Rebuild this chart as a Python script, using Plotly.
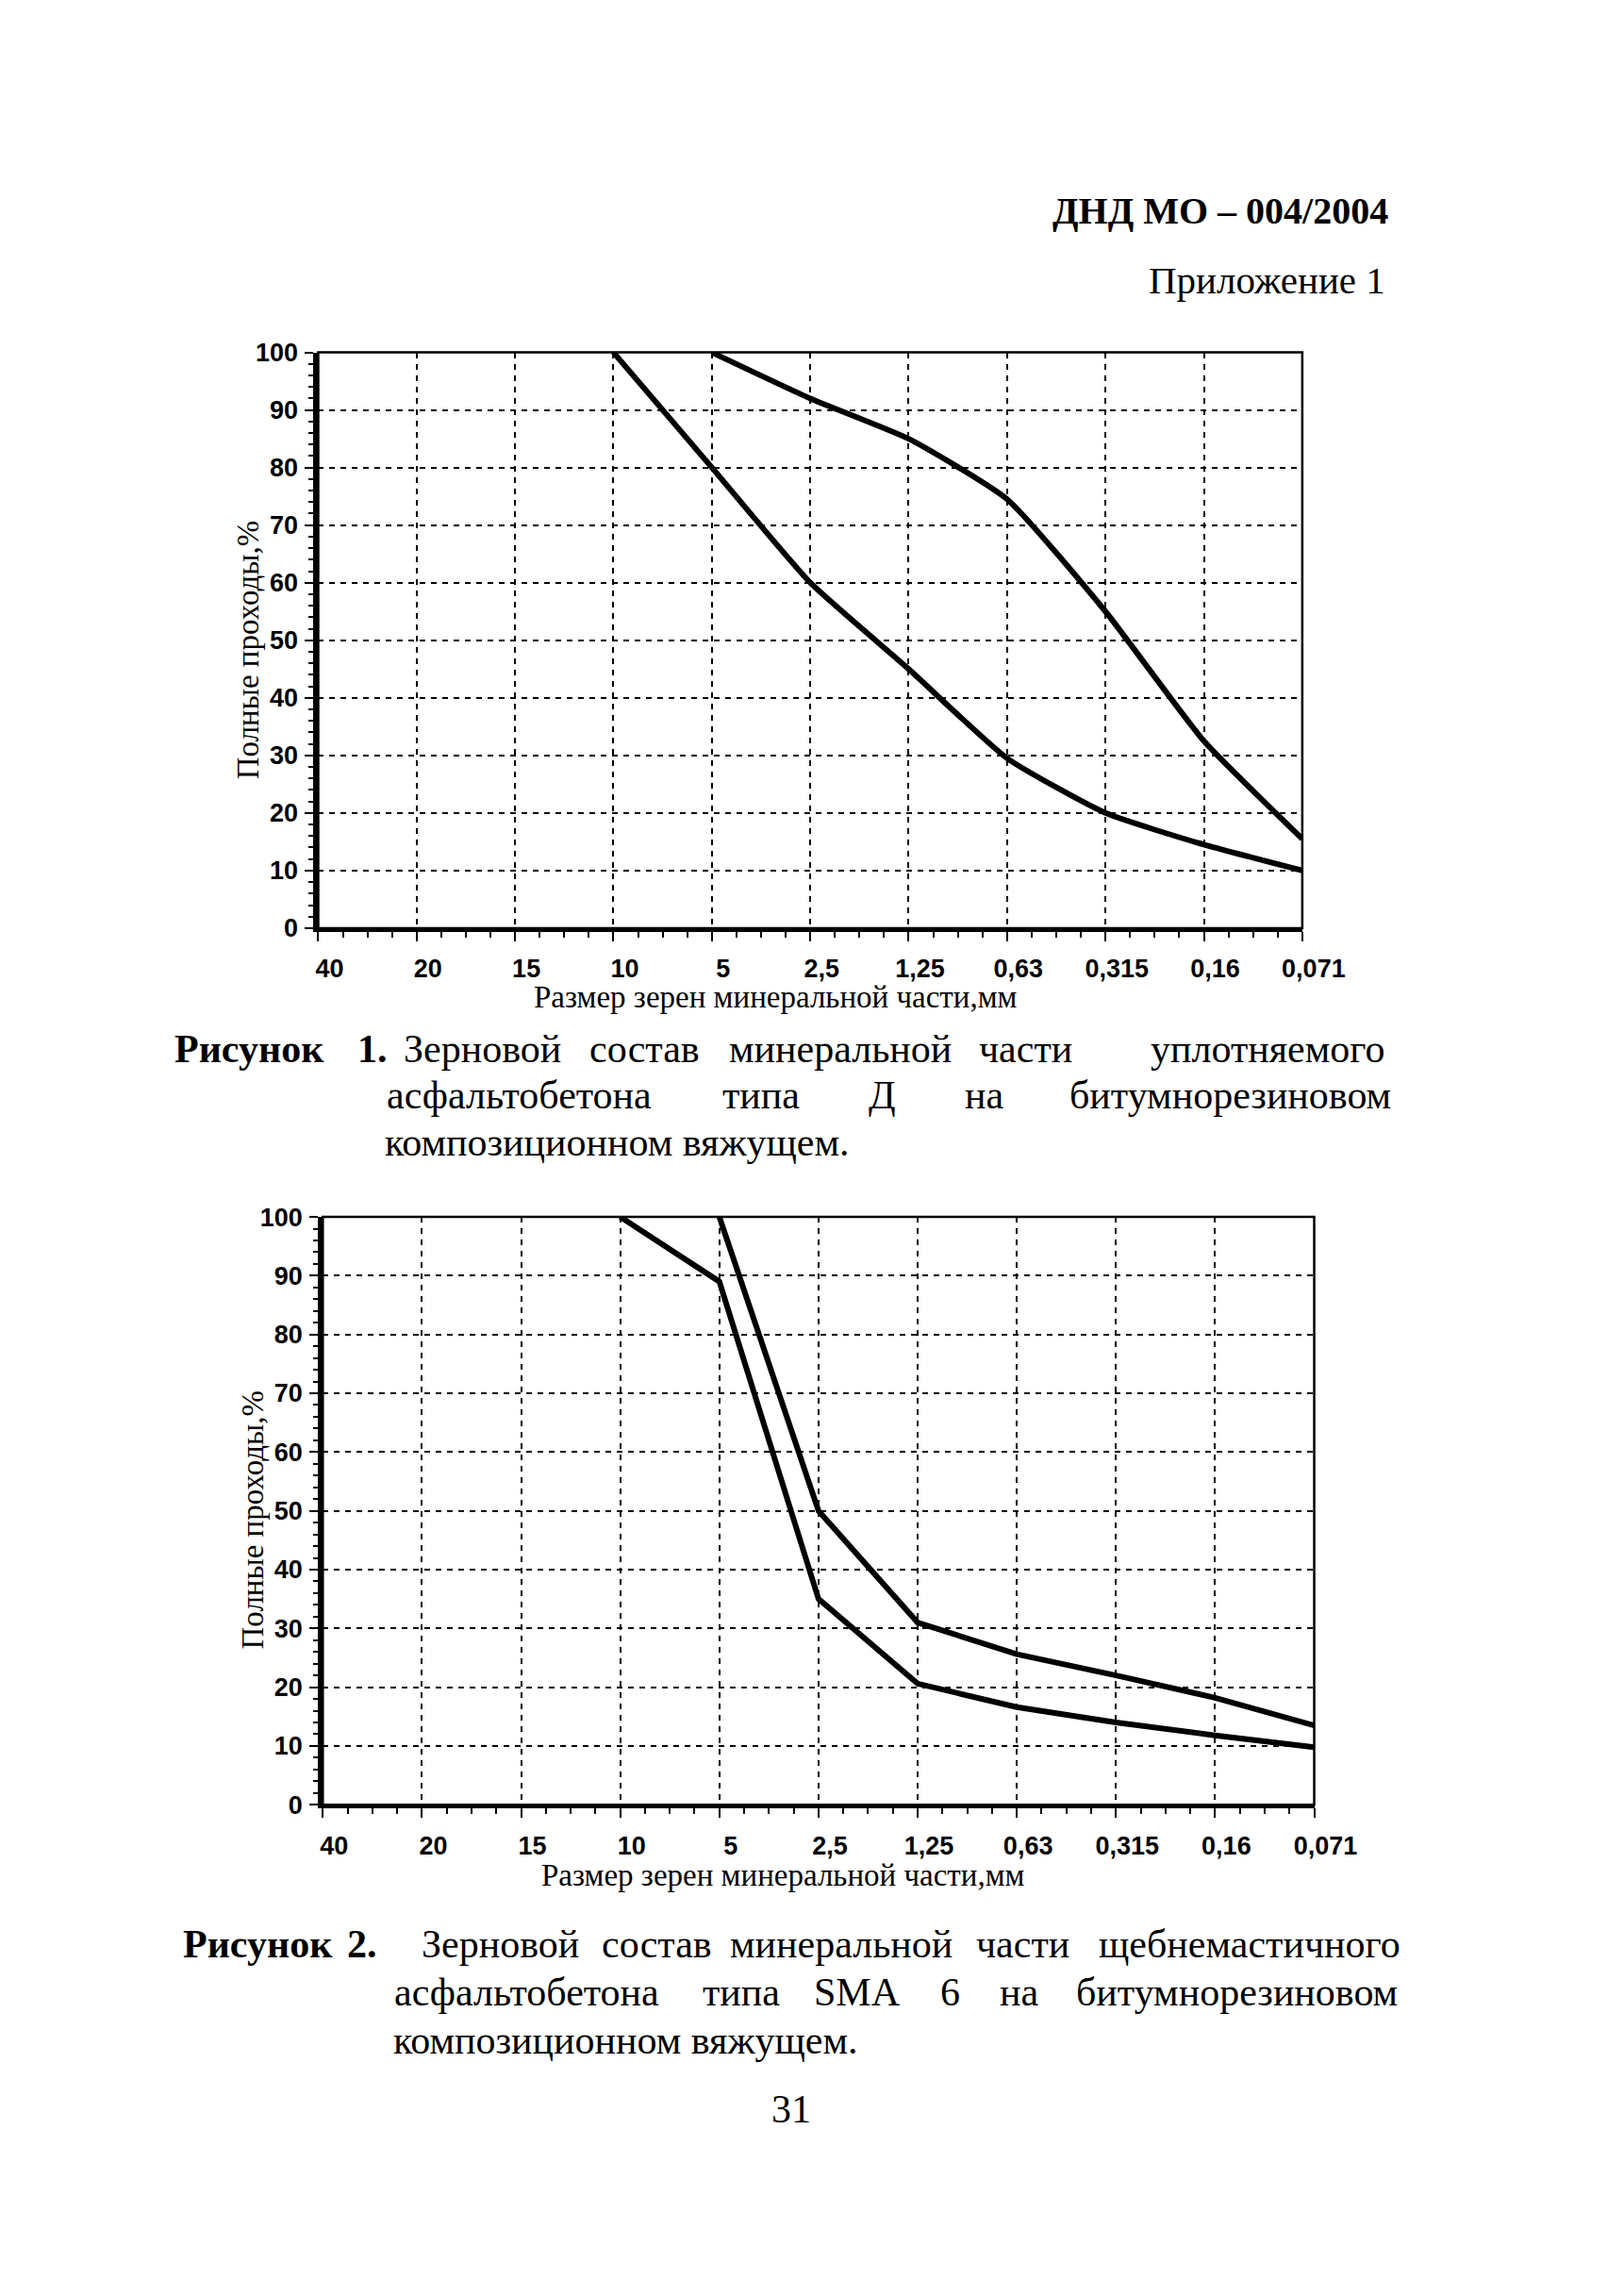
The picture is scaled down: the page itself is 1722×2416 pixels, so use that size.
import plotly.graph_objects as go

W, H = 1722, 2416

# ---------------- data ----------------
size_labels = ["40", "20", "15", "10", "5", "2,5", "1,25", "0,63", "0,315", "0,16", "0,071"]

fig1_upper_sizes = ["5", "2,5", "1,25", "0,63", "0,315", "0,16", "0,071"]
fig1_upper_pass = [100, 92, 85, 74.5, 55, 32.5, 15.5]
fig1_lower_sizes = ["10", "5", "2,5", "1,25", "0,63", "0,315", "0,16", "0,071"]
fig1_lower_pass = [100, 80, 60, 45, 29.5, 20, 14.5, 10]

fig2_upper_sizes = ["5", "2,5", "1,25", "0,63", "0,315", "0,16", "0,071"]
fig2_upper_pass = [100, 50, 31, 25.6, 22, 18.2, 13.5]
fig2_lower_sizes = ["10", "5", "2,5", "1,25", "0,63", "0,315", "0,16", "0,071"]
fig2_lower_pass = [100, 89, 35, 20.6, 16.6, 14, 11.8, 9.8]

y_ticks = [0, 10, 20, 30, 40, 50, 60, 70, 80, 90, 100]

x_title = "Размер зерен минеральной части,мм"
y_title = "Полные проходы,%"


def idx(labels):
    return [size_labels.index(s) for s in labels]


def px(x):
    return x / W


def py(y):
    return 1 - y / H


fig = go.Figure()

fig.add_trace(go.Scatter(x=idx(fig1_upper_sizes), y=fig1_upper_pass, mode="lines",
                         line=dict(color="black", width=6, shape="spline", smoothing=0.5),
                         xaxis="x", yaxis="y", showlegend=False))
fig.add_trace(go.Scatter(x=idx(fig1_lower_sizes), y=fig1_lower_pass, mode="lines",
                         line=dict(color="black", width=6, shape="spline", smoothing=0.5),
                         xaxis="x", yaxis="y", showlegend=False))
fig.add_trace(go.Scatter(x=idx(fig2_upper_sizes), y=fig2_upper_pass, mode="lines",
                         line=dict(color="black", width=6),
                         xaxis="x2", yaxis="y2", showlegend=False))
fig.add_trace(go.Scatter(x=idx(fig2_lower_sizes), y=fig2_lower_pass, mode="lines",
                         line=dict(color="black", width=6),
                         xaxis="x2", yaxis="y2", showlegend=False))

tickfont = dict(family="Liberation Sans", size=27, color="black", weight="bold")


def xaxis(domain, anchor):
    return dict(domain=domain, anchor=anchor, range=[0, 10],
                tickmode="array", tickvals=list(range(len(size_labels))), ticktext=size_labels,
                tickfont=tickfont, ticks="outside", ticklen=10, tickwidth=2, tickcolor="black",
                ticklabelshift=12, ticklabelstandoff=6,
                showline=True, linecolor="black", linewidth=4,
                showgrid=True, gridcolor="black", gridwidth=2, griddash="6px,6px",
                minor=dict(dtick=0.25, tick0=0, ticks="outside", ticklen=6, tickwidth=2,
                           tickcolor="black", showgrid=False),
                zeroline=False, fixedrange=True)


def yaxis(domain, anchor):
    return dict(domain=domain, anchor=anchor, range=[0, 100],
                tickmode="array", tickvals=y_ticks,
                tickfont=tickfont, ticks="outside", ticklen=9, tickwidth=2, tickcolor="black",
                ticklabelstandoff=2,
                showline=True, linecolor="black", linewidth=5,
                showgrid=True, gridcolor="black", gridwidth=2, griddash="6px,6px",
                minor=dict(dtick=2, tick0=0, ticks="outside", ticklen=5, tickwidth=2,
                           tickcolor="black", showgrid=False),
                zeroline=False, fixedrange=True)


# chart geometry (pixels)
c1 = dict(l=336, r=1410, t=355, b=973)
c2 = dict(l=341, r=1423, t=1283, b=1914)

fig.update_layout(
    width=W, height=H,
    margin=dict(l=0, r=0, t=0, b=0),
    paper_bgcolor="white", plot_bgcolor="white",
    xaxis=xaxis([px(c1["l"]), px(c1["r"])], "y"),
    yaxis=yaxis([py(c1["b"]), py(c1["t"])], "x"),
    xaxis2=xaxis([px(c2["l"]), px(c2["r"])], "y2"),
    yaxis2=yaxis([py(c2["b"]), py(c2["t"])], "x2"),
)

# frames (top / right borders)
for xr, yr in (("x", "y"), ("x2", "y2")):
    fig.add_shape(type="rect", xref=f"{xr} domain", yref=f"{yr} domain",
                  x0=0, x1=1, y0=0, y1=1, line=dict(color="black", width=2.5), layer="above")

serif = "Liberation Serif"
ann = []


def text(t, x, y, size=42, anchor="center", bold=False, angle=0):
    ann.append(dict(text=t, x=px(x), y=py(y), xref="paper", yref="paper",
                    xanchor=anchor, yanchor="middle", showarrow=False, textangle=angle,
                    font=dict(family=serif, size=size, color="black",
                              weight="bold" if bold else "normal")))


# header
text("ДНД МО – 004/2004", 1506, 203, size=40, anchor="right", bold=True)
text("Приложение 1", 1503, 277, size=41, anchor="right")

# axis titles
text(x_title, 835, 1047, size=33)
text(y_title, 259, 675, size=33, angle=-90)
text(x_title, 844, 1990, size=33)
text(y_title, 265, 1608, size=33, angle=-90)

# caption 1
cap1_l1 = [("Рисунок", 261, True), ("1.", 395, True), ("Зерновой", 515, False), ("состав", 692, False),
           ("минеральной", 906, False), ("части", 1108, False), ("уплотняемого", 1372, False)]
for w, x, b in cap1_l1:
    text(w, x, 1103, bold=b)
cap1_l2 = [("асфальтобетона", 555), ("типа", 819), ("Д", 952), ("на", 1063), ("битумнорезиновом", 1331)]
for w, x in cap1_l2:
    text(w, x, 1152)
text("композиционном вяжущем.", 407, 1203, anchor="left")

# caption 2
cap2_l1 = [("Рисунок", 270, True), ("2.", 384, True), ("Зерновой", 535, False),
           ("состав", 706, False), ("минеральной", 907, False), ("части", 1105, False),
           ("щебнемастичного", 1352, False)]
for w, x, b in cap2_l1:
    text(w, x, 2064, bold=b)
cap2_l2 = [("асфальтобетона", 564), ("типа", 798), ("SMA", 924), ("6", 1026), ("на", 1101),
           ("битумнорезиновом", 1339)]
for w, x in cap2_l2:
    text(w, x, 2115)
text("композиционном вяжущем.", 416, 2167, anchor="left")

# page number
text("31", 852, 2241, size=42)

fig.update_layout(annotations=ann)

fig.write_html("out.html")
